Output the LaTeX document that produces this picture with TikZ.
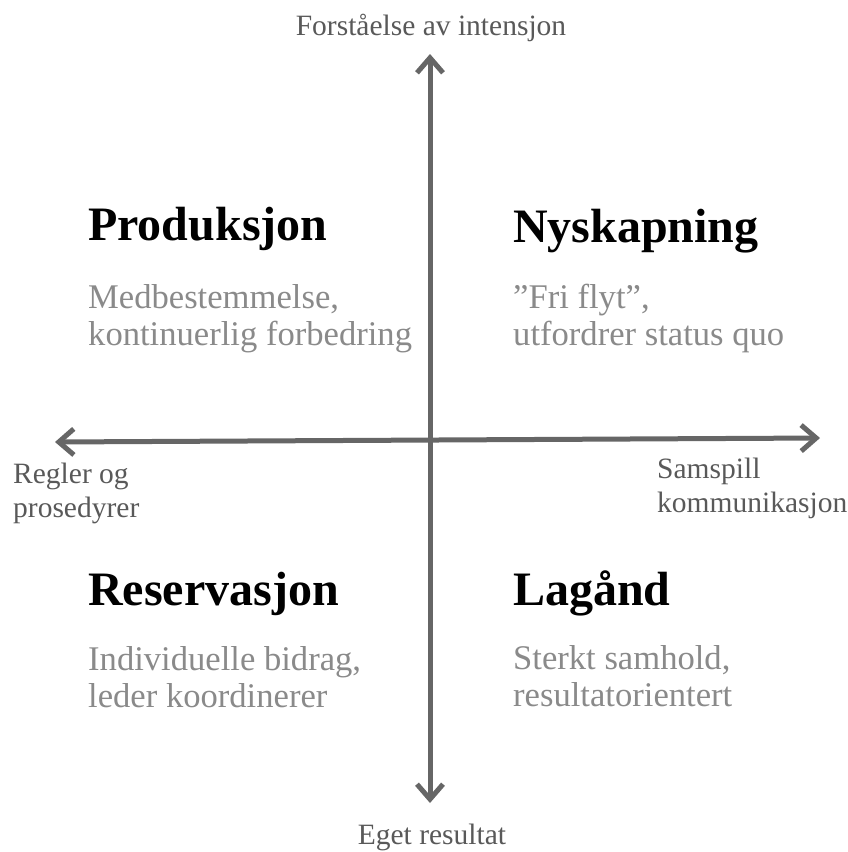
\documentclass[tikz,border=0pt]{standalone}
\usepackage{fontspec}
\setmainfont{Liberation Serif}
\usetikzlibrary{arrows.meta}
\definecolor{axisgray}{HTML}{666666}
\definecolor{labelgray}{HTML}{595959}
\definecolor{notegray}{HTML}{8A8A8A}
\begin{document}
\begin{tikzpicture}[x=1pt,y=-1pt,
  axis/.style={draw=axisgray,line width=5pt,
    {Straight Barb[length=15pt,width=26pt]}-{Straight Barb[length=15pt,width=26pt]}},
  heading/.style={anchor=base west,inner sep=0pt,font=\fontsize{48}{52}\selectfont\bfseries},
  note/.style={anchor=base west,inner sep=0pt,align=left,text=notegray,
    font=\fontsize{34.6}{36.5}\selectfont},
  axislabel/.style={inner sep=0pt,text=labelgray,font=\fontsize{29.5}{33.5}\selectfont}]
  \useasboundingbox (0,0) rectangle (848,852);

  % axes
  \coordinate (north) at (430,54);
  \coordinate (south) at (430,803);
  \coordinate (west) at (55,442);
  \coordinate (east) at (820,438);
  \draw[axis] (south) -- (north);
  \draw[axis] (west) -- (east);

  % axis labels (multi-line nodes sit on the baseline of their last line)
  \node[axislabel,anchor=base] (toplabel) at (431,35) {Forståelse av intensjon};
  \node[axislabel,anchor=base] (bottomlabel) at (432,844) {Eget resultat};
  \node[axislabel,anchor=base west,align=left] (leftlabel) at (13,517) {Regler og\\prosedyrer};
  \node[axislabel,anchor=base west,align=left] (rightlabel) at (657,512) {Samspill\\kommunikasjon};

  % quadrants
  \node[heading] (produksjon) at (88,240) {Produksjon};
  \node[note] (produksjonnote) at (88,345) {Medbestemmelse,\\kontinuerlig forbedring};

  \node[heading] (nyskapning) at (513,242) {Nyskapning};
  \node[note] (nyskapningnote) at (513,345) {”Fri flyt”,\\utfordrer status quo};

  \node[heading] (reservasjon) at (88,605) {Reservasjon};
  \node[note] (reservasjonnote) at (88,707) {Individuelle bidrag,\\leder koordinerer};

  \node[heading] (lagand) at (513,605) {Lagånd};
  \node[note] (lagandnote) at (513,706) {Sterkt samhold,\\resultatorientert};
\end{tikzpicture}
\end{document}
